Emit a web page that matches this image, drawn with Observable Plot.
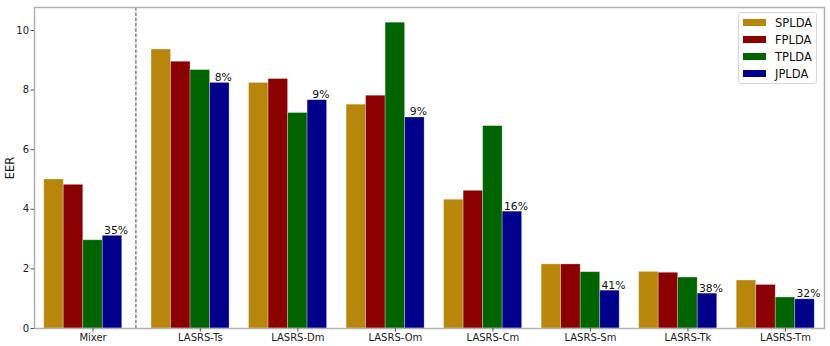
<!DOCTYPE html>
<html>
<head>
<meta charset="utf-8">
<script src="https://cdn.jsdelivr.net/npm/d3@7"></script>
<script src="https://cdn.jsdelivr.net/npm/@observablehq/plot@0.6"></script>
<style>
  html, body { margin: 0; padding: 0; background: #fff; }
  #wrap { position: relative; width: 830px; height: 346px; font-family: "DejaVu Sans", sans-serif; }
  #legend {
    position: absolute; left: 738px; top: 12px; width: 79px; height: 72px;
    border: 1px solid #d8d8d8; border-radius: 3px; background: rgba(255,255,255,0.85);
    box-sizing: border-box;
  }
  .item { position: absolute; left: 4px; height: 14px; display: flex; align-items: center; }
  .sw { width: 23px; height: 7px; margin-right: 9px; }
  .lab { font-size: 11.5px; color: #111; line-height: 14px; }
</style>
</head>
<body>
<div id="wrap"><div id="legend"></div></div>
<script>
// ---- data ----
const groups = ["Mixer", "LASRS-Ts", "LASRS-Dm", "LASRS-Om", "LASRS-Cm", "LASRS-Sm", "LASRS-Tk", "LASRS-Tm"];
const series = ["SPLDA", "FPLDA", "TPLDA", "JPLDA"];
const SPLDA = [5.00, 9.36, 8.24, 7.51, 4.32, 2.15, 1.90, 1.61];
const FPLDA = [4.82, 8.95, 8.37, 7.81, 4.62, 2.15, 1.87, 1.46];
const TPLDA = [2.96, 8.67, 7.23, 10.26, 6.79, 1.89, 1.71, 1.04];
const JPLDA = [3.11, 8.24, 7.66, 7.08, 3.92, 1.27, 1.17, 0.98];
const reduction = ["35%", "8%", "9%", "9%", "16%", "41%", "38%", "32%"];
const colors = ["#b8860b", "#8b0000", "#006400", "#00008b"];
const yTicks = [0, 2, 4, 6, 8, 10];

// ---- layout helpers (group positions in x units; Mixer set apart) ----
const barW = 0.2;
const groupPos = groups.map((g, i) => i === 0 ? 0 : i + 0.1);
const dividerPos = 0.44;
const valuesBySeries = [SPLDA, FPLDA, TPLDA, JPLDA];

const bars = [];
groups.forEach((g, i) => {
  series.forEach((s, j) => {
    const c = groupPos[i] + (j - 2) * barW;
    bars.push({group: g, series: s, value: valuesBySeries[j][i], x1: c - barW / 2, x2: c + barW / 2});
  });
});
const labels = groups.map((g, i) => ({group: g, x: groupPos[i] + barW, value: JPLDA[i], text: reduction[i]}));

const chart = Plot.plot({
  width: 830,
  height: 346,
  marginLeft: 34,
  marginRight: 6,
  marginTop: 7,
  marginBottom: 18,
  style: {fontFamily: "DejaVu Sans, sans-serif", fontSize: "10px", color: "#222", background: "white"},
  x: {type: "linear", domain: [-0.6, 7.5]},
  y: {domain: [0, 10.77]},
  color: {domain: series, range: colors},
  marks: [
    Plot.rect(bars, {x1: "x1", x2: "x2", y1: 0, y2: "value", fill: "series", stroke: "white", strokeOpacity: 0.35, strokeWidth: 0.8}),
    Plot.text(labels, {x: "x", y: "value", text: "text", textAnchor: "middle", lineAnchor: "bottom", dx: 3.5, dy: -2, fontSize: 10.8, fill: "#111"}),
    Plot.ruleX([dividerPos], {stroke: "#444", strokeWidth: 1, strokeDasharray: "3.7,1.6"}),
    Plot.frame({stroke: "#b0b0b0", strokeWidth: 1.5}),
    Plot.axisY({ticks: yTicks, tickSize: 3.5, tickPadding: 2, stroke: "#555", fontSize: 10, label: null}),
    Plot.axisY({ticks: [], label: "EER", labelAnchor: "center", labelArrow: "none", labelOffset: 29, fontSize: 11.5}),
    Plot.axisX({ticks: groupPos, tickFormat: (d) => groups[groupPos.indexOf(d)], tickSize: 3.5, tickPadding: 2, stroke: "#555", fontSize: 10, label: null})
  ]
});
document.getElementById("wrap").prepend(chart);

// ---- legend ----
const legend = document.getElementById("legend");
series.forEach((s, j) => {
  const it = document.createElement("div");
  it.className = "item";
  it.style.top = (2.5 + j * 17.1) + "px";
  it.innerHTML = `<div class="sw" style="background:${colors[j]}"></div><span class="lab">${s}</span>`;
  legend.appendChild(it);
});
</script>
</body>
</html>
